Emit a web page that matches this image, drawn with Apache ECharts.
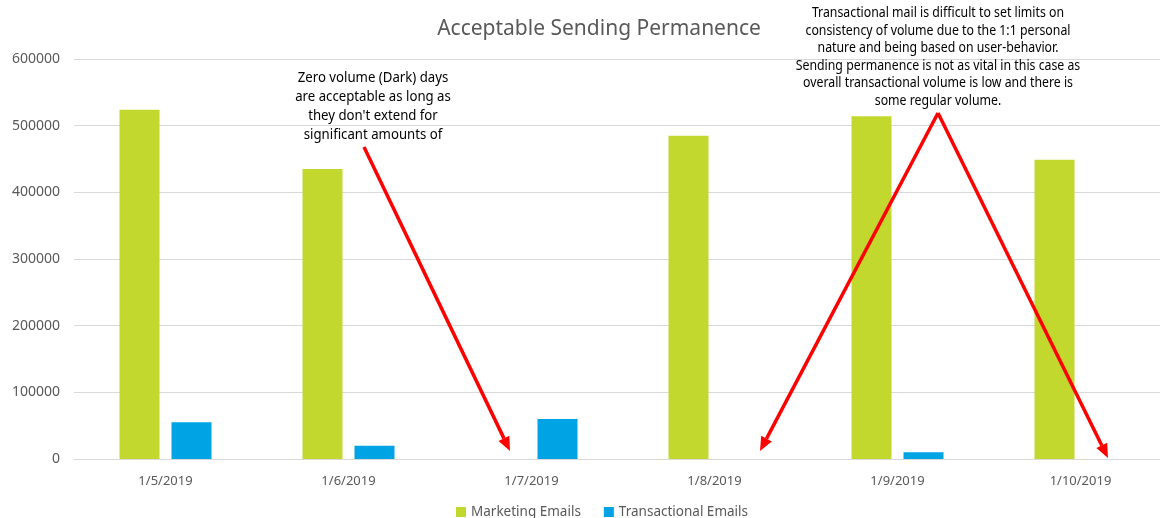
<!DOCTYPE html>
<html>
<head>
<meta charset="utf-8">
<script src="https://cdn.jsdelivr.net/npm/echarts@6/dist/echarts.min.js"></script>
<style>
html,body{margin:0;padding:0;background:#fff;overflow:hidden;}
#chart{width:1172px;height:518px;}
</style>
</head>
<body>
<div id="chart"></div>
<script>
var dates = ['1/5/2019','1/6/2019','1/7/2019','1/8/2019','1/9/2019','1/10/2019'];
var marketing = [524000, 435000, 0, 485000, 514000, 449000];
var transactional = [55000, 20000, 60000, 0, 10000, 0];
var yTicks = [0, 100000, 200000, 300000, 400000, 500000, 600000];

var note1 = ['Zero volume (Dark) days','are acceptable as long as',"they don't extend for",'significant amounts of'];
var note2 = ['Transactional mail is difficult to set limits on','consistency of volume due to the 1:1 personal','nature and being based on user-behavior.','Sending permanence is not as vital in this case as','overall transactional volume is low and there is','some regular volume.'];

var labelFont = '"Noto Sans", sans-serif';

// arrow: line + head
function arrow(x1,y1,x2,y2){
    var ang=Math.atan2(y2-y1,x2-x1), len=14, w=6;
    var bx=x2-len*Math.cos(ang), by=y2-len*Math.sin(ang);
    var px=-Math.sin(ang)*w, py=Math.cos(ang)*w;
    return [
        {type:'line',shape:{x1:x1,y1:y1,x2:bx,y2:by},style:{stroke:'#ff0000',lineWidth:3.5},z:100},
        {type:'polygon',shape:{points:[[x2,y2],[bx+px,by+py],[bx-px,by-py]]},style:{fill:'#ff0000'},z:100}
    ];
}

var myChart = echarts.init(document.getElementById('chart'));
var graphics = [];
graphics = graphics.concat(arrow(364,147,510,451));
graphics = graphics.concat(arrow(938,113,760,451));
graphics = graphics.concat(arrow(938,113,1108,458));
graphics.push({type:'text',x:373,y:68,scaleX:0.88,z:100,
    style:{text:note1.join('\n'),font:'15px '+labelFont,fill:'#000',align:'center',lineHeight:19}});
graphics.push({type:'text',x:938,y:4,scaleX:0.82,z:100,
    style:{text:note2.join('\n'),font:'15px '+labelFont,fill:'#000',align:'center',lineHeight:17.6}});

var option = {
    animation:false,
    title:{
        text:'Acceptable Sending Permanence',
        left:594, top:14, textAlign:'center',
        textStyle:{fontFamily:labelFont,fontSize:21,fontWeight:'normal',color:'#595959'}
    },
    legend:{
        data:['Marketing Emails','Transactional Emails'],
        bottom:-6, left:451,
        itemWidth:10, itemHeight:10, itemGap:23,
        icon:'rect',
        textStyle:{fontFamily:labelFont,fontSize:13.5,color:'#595959'}
    },
    grid:{left:74,right:0,top:59,bottom:59,containLabel:false},
    xAxis:{
        type:'category',
        data:dates,
        axisLine:{lineStyle:{color:'#d9d9d9',width:1}},
        axisTick:{show:false},
        axisLabel:{fontFamily:labelFont,fontSize:13,color:'#595959',margin:16}
    },
    yAxis:{
        type:'value',
        min:yTicks[0], max:yTicks[yTicks.length-1], interval:100000,
        axisLine:{show:false},
        axisTick:{show:false},
        splitLine:{lineStyle:{color:'#d9d9d9'}},
        axisLabel:{fontFamily:labelFont,fontSize:14,color:'#595959',margin:14,
            formatter:function(v){return String(v);}}
    },
    series:[
        {name:'Marketing Emails',type:'bar',data:marketing,barWidth:40,barGap:'30%',itemStyle:{color:'#c2d82e'}},
        {name:'Transactional Emails',type:'bar',data:transactional,barWidth:40,itemStyle:{color:'#00a4e4'}}
    ],
    graphic:graphics
};
myChart.setOption(option);
</script>
</body>
</html>
